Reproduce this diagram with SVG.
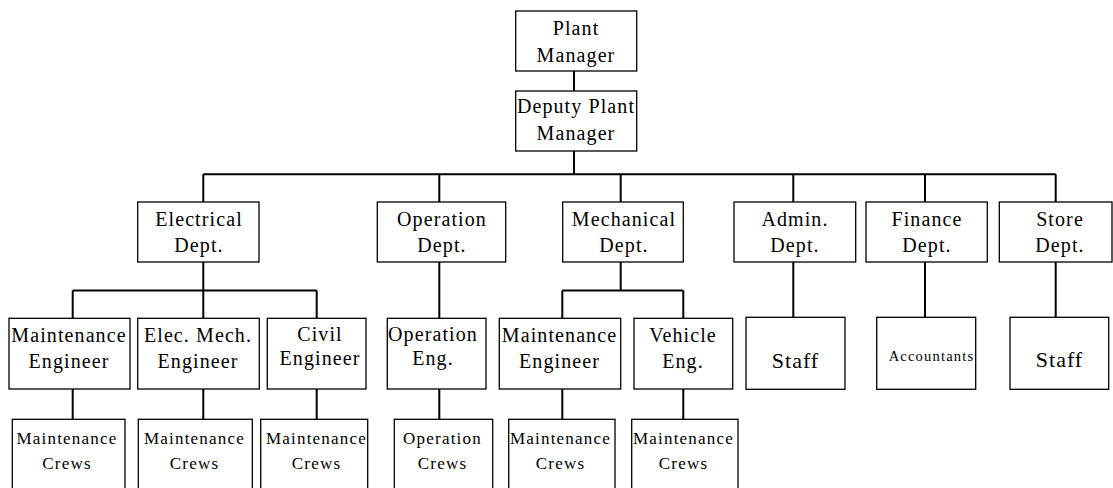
<svg xmlns="http://www.w3.org/2000/svg" width="1113" height="488" viewBox="0 0 1113 488">
<style>
  .box { fill: #fff; stroke: #000; stroke-width: 1.3; }
  text { font-family: 'Liberation Serif', 'DejaVu Serif', serif; font-size: 20px; letter-spacing: 1.1px; text-anchor: middle; fill: #000; }
  text.s { font-size: 17px; letter-spacing: 1.2px; }
  text.big { font-size: 22px; letter-spacing: 1px; }
  text.tiny { font-size: 14.5px; letter-spacing: 1.2px; }
  #connectors path { fill: none; stroke: #000; stroke-width: 2; }
</style>
<rect width="1113" height="488" fill="#fff"/>
<g id="connectors">
  <path d="M574 71V91M574 151V174.3M203.3 174.3H1055.7M203.3 174.3V202M439.3 174.3V202M620.7 174.3V202M793.3 174.3V202M925 174.3V202M1055.7 174.3V202"/>
  <path d="M203.3 262V290.6M72.7 290.6H316.7M72.7 290.6V318M203.3 290.6V318M316.7 290.6V318"/>
  <path d="M439.3 262V318"/>
  <path d="M620.7 262V290.6M562.3 290.6H683.3M562.3 290.6V318M683.3 290.6V318"/>
  <path d="M72.7 389V419M203.3 389V419M316.7 389V419M439.3 389V419M562.3 389V419M683.3 389V419"/>
  <path d="M793.3 262V317M925 262V317M1055.7 262V317"/>
</g>
<g font-family="Liberation Serif, serif">
<g id="plant-manager"><rect class="box" x="515.7" y="11" width="121" height="60"/><text x="576" y="35">Plant</text><text x="576" y="61.5">Manager</text></g>
<g id="deputy"><rect class="box" x="515.7" y="91" width="121" height="60"/><text x="576" y="113">Deputy Plant</text><text x="576" y="140">Manager</text></g>

<g id="electrical"><rect class="box" x="137.7" y="202" width="121.3" height="60"/><text x="199" y="225.7">Electrical</text><text x="199" y="252">Dept.</text></g>
<g id="operation"><rect class="box" x="377.3" y="202" width="128.4" height="60"/><text x="442" y="225.7">Operation</text><text x="442" y="252">Dept.</text></g>
<g id="mechanical"><rect class="box" x="562.7" y="202" width="120.6" height="60"/><text x="624" y="225.7">Mechanical</text><text x="624" y="252">Dept.</text></g>
<g id="admin"><rect class="box" x="734" y="202" width="121.7" height="60"/><text x="795" y="225.7">Admin.</text><text x="795" y="252">Dept.</text></g>
<g id="finance"><rect class="box" x="866" y="202" width="121.3" height="60"/><text x="927" y="225.7">Finance</text><text x="927" y="252">Dept.</text></g>
<g id="store"><rect class="box" x="999.3" y="202" width="112.7" height="60"/><text x="1060" y="225.7">Store</text><text x="1060" y="252">Dept.</text></g>

<g id="elec-maint-eng"><rect class="box" x="9" y="318.3" width="121" height="70.7"/><text x="69" y="341.5">Maintenance</text><text x="69" y="367.5">Engineer</text></g>
<g id="elec-mech-eng"><rect class="box" x="137.7" y="318.3" width="121.6" height="70.7"/><text x="198" y="341.5">Elec. Mech.</text><text x="198" y="367.5">Engineer</text></g>
<g id="civil-eng"><rect class="box" x="267.3" y="318.3" width="98.7" height="70.7"/><text x="320" y="340.5">Civil</text><text x="320" y="365">Engineer</text></g>
<g id="operation-eng"><rect class="box" x="387.3" y="318.3" width="98.7" height="70.7"/><text x="433" y="341">Operation</text><text x="433" y="365">Eng.</text></g>
<g id="mech-maint-eng"><rect class="box" x="499.3" y="318.3" width="121.4" height="70.7"/><text x="559.5" y="341.5">Maintenance</text><text x="559.5" y="367.5">Engineer</text></g>
<g id="vehicle-eng"><rect class="box" x="634" y="318.3" width="98.7" height="70.7"/><text x="683" y="341.5">Vehicle</text><text x="683" y="368">Eng.</text></g>

<g id="admin-staff"><rect class="box" x="746" y="317.3" width="99" height="72"/><text class="big" x="795.5" y="367.5">Staff</text></g>
<g id="accountants"><rect class="box" x="876.7" y="317.3" width="99" height="72"/><text class="tiny" x="931.5" y="360.5">Accountants</text></g>
<g id="store-staff"><rect class="box" x="1010" y="317.3" width="98.7" height="72"/><text class="big" x="1059.5" y="367">Staff</text></g>

<g id="crews-1"><rect class="box" x="12.3" y="419.3" width="112.7" height="80"/><text class="s" x="67" y="444">Maintenance</text><text class="s" x="67" y="469">Crews</text></g>
<g id="crews-2"><rect class="box" x="138.3" y="419.3" width="114" height="80"/><text class="s" x="194.5" y="444">Maintenance</text><text class="s" x="194.5" y="469">Crews</text></g>
<g id="crews-3"><rect class="box" x="260.7" y="419.3" width="107" height="80"/><text class="s" x="316.5" y="444">Maintenance</text><text class="s" x="316.5" y="469">Crews</text></g>
<g id="crews-4"><rect class="box" x="394.3" y="419.3" width="98.4" height="80"/><text class="s" x="442.5" y="444">Operation</text><text class="s" x="442.5" y="469">Crews</text></g>
<g id="crews-5"><rect class="box" x="508.7" y="419.3" width="106.3" height="80"/><text class="s" x="560.5" y="444">Maintenance</text><text class="s" x="560.5" y="469">Crews</text></g>
<g id="crews-6"><rect class="box" x="631.7" y="419.3" width="106.3" height="80"/><text class="s" x="683.5" y="444">Maintenance</text><text class="s" x="683.5" y="469">Crews</text></g>
</g>
</svg>
